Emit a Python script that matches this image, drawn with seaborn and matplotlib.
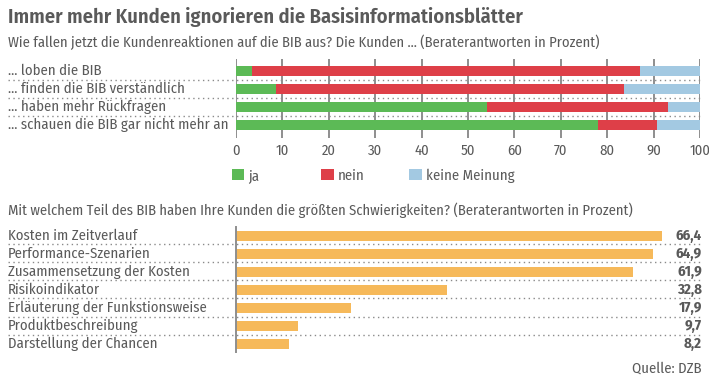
import numpy as np
import pandas as pd
import matplotlib
matplotlib.use("Agg")
import matplotlib.pyplot as plt
import matplotlib.transforms as mtransforms
from matplotlib.patches import Patch
from matplotlib import font_manager as fm
import seaborn as sns

# ---------------- data ----------------
top_categories = ["... loben die BIB", "... finden die BIB verständlich",
                  "... haben mehr Rückfragen", "... schauen die BIB gar nicht mehr an"]
ja = [3.4, 8.6, 54.2, 78.0]
nein = [83.7, 75.0, 38.9, 12.7]
keine_meinung = [12.9, 16.4, 6.9, 9.3]
top_ticks = [0, 10, 20, 30, 40, 50, 60, 70, 80, 90, 100]
legend_labels = ["ja", "nein", "keine Meinung"]

bottom_categories = ["Kosten im Zeitverlauf", "Performance-Szenarien",
                     "Zusammensetzung der Kosten", "Risikoindikator",
                     "Erläuterung der Funkstionsweise", "Produktbeschreibung",
                     "Darstellung der Chancen"]
bottom_values = [66.4, 64.9, 61.9, 32.8, 17.9, 9.7, 8.2]

title = "Immer mehr Kunden ignorieren die Basisinformationsblätter"
subtitle_top = "Wie fallen jetzt die Kundenreaktionen auf die BIB aus? Die Kunden ... (Beraterantworten in Prozent)"
subtitle_bottom = "Mit welchem Teil des BIB haben Ihre Kunden die größten Schwierigkeiten? (Beraterantworten in Prozent)"
source = "Quelle: DZB"

# ---------------- style ----------------
sns.set_style("white")
available = {f.name for f in fm.fontManager.ttflist}
preferred = ["Fira Sans Condensed", "Barlow Semi Condensed", "Asap Condensed",
             "Roboto Condensed", "Archivo Narrow", "Liberation Sans Narrow", "Roboto"]
FONT = [f for f in preferred if f in available][:1] + ["DejaVu Sans"]
plt.rcParams["font.family"] = FONT
TXT = "#5a5a5a"
GREEN = "#5cba56"
RED = "#de3f48"
BLUE = "#a3c9e2"
ORANGE = "#f6b95a"
GRID = "#8e8e8e"
DOT = "#8a8a8a"

W, H = 709, 389
fig = plt.figure(figsize=(W / 100, H / 100), dpi=100)
fig.patch.set_facecolor("white")


def fx(px):
    return px / W


def fy(py):
    return 1 - py / H


PT = 72 / 100  # px -> pt
FS = 10.6

# ---------------- top chart ----------------
x0, x1 = 236, 700
ax1 = fig.add_axes([fx(x0), fy(138), (x1 - x0) / W, (138 - 59) / H])
df_top = pd.DataFrame({"cat": top_categories, "ja": ja, "nein": nein, "keine": keine_meinung})
df_top["c2"] = df_top["ja"] + df_top["nein"]
df_top["c3"] = df_top["c2"] + df_top["keine"]

sns.barplot(data=df_top, x="c3", y="cat", color=BLUE, width=0.55, ax=ax1,
            orient="h", saturation=1, linewidth=0)
sns.barplot(data=df_top, x="c2", y="cat", color=RED, width=0.55, ax=ax1,
            orient="h", saturation=1, linewidth=0)
sns.barplot(data=df_top, x="ja", y="cat", color=GREEN, width=0.55, ax=ax1,
            orient="h", saturation=1, linewidth=0)

ax1.set_xlim(0, 100)
ax1.set_ylim(3.72, -0.65)
ax1.set_xticks(top_ticks)
ax1.set_xticklabels([str(t) for t in top_ticks])
ax1.set_xlabel("")
ax1.set_ylabel("")
ax1.grid(axis="x", color=GRID, lw=1.4)
ax1.grid(axis="y", visible=False)
ax1.set_axisbelow(True)
for s in ax1.spines.values():
    s.set_visible(False)
ax1.tick_params(axis="x", length=0, pad=6 * PT, labelsize=FS, labelcolor=TXT)
ax1.tick_params(axis="y", length=0, pad=(x0 - 8) * PT, labelsize=FS, labelcolor=TXT)
for lab in ax1.get_yticklabels():
    lab.set_ha("left")
    lab.set_va("center")

trans1 = mtransforms.blended_transform_factory(ax1.transAxes, ax1.transData)
xa_left = (8 - x0) / (x1 - x0)
for i in range(len(top_categories) - 1):
    ax1.plot([xa_left, 1.0], [i + 0.5, i + 0.5], transform=trans1, clip_on=False,
             color=DOT, lw=1.0, ls=(0, (1, 2.5)), zorder=0.5)

# legend
leg_x = [231.5, 321, 409]
for lab, col, lx in zip(legend_labels, [GREEN, RED, BLUE], leg_x):
    fig.legend(handles=[Patch(facecolor=col, edgecolor="none", label=lab)],
               loc="center left", bbox_to_anchor=(fx(lx), fy(175.5)),
               frameon=False, fontsize=FS, handlelength=0.85, handleheight=0.85,
               handletextpad=0.3, borderpad=0, borderaxespad=0, labelcolor=TXT)

# ---------------- bottom chart ----------------
scale = 6.42  # px per unit
ax2 = fig.add_axes([fx(x0), fy(351.7), (x1 - x0) / W, (351.7 - 227) / H])
df_bot = pd.DataFrame({"cat": bottom_categories, "val": bottom_values})
sns.barplot(data=df_bot, x="val", y="cat", color=ORANGE, width=0.55, ax=ax2,
            orient="h", saturation=1, linewidth=0)
ax2.set_xlim(0, (x1 - x0) / scale)
ax2.set_ylim(6.43, -0.48)
ax2.set_xlabel("")
ax2.set_ylabel("")
ax2.set_xticks([])
ax2.grid(False)
for k, s in ax2.spines.items():
    s.set_visible(k == "left")
ax2.spines["left"].set_color(GRID)
ax2.spines["left"].set_linewidth(1.4)
ax2.tick_params(axis="y", length=0, pad=(x0 - 8) * PT, labelsize=FS, labelcolor=TXT)
for lab in ax2.get_yticklabels():
    lab.set_ha("left")
    lab.set_va("center")

trans2 = mtransforms.blended_transform_factory(ax2.transAxes, ax2.transData)
for i in range(len(bottom_categories) - 1):
    ax2.plot([xa_left, 1.0], [i + 0.48, i + 0.48], transform=trans2, clip_on=False,
             color=DOT, lw=1.0, ls=(0, (1, 2.5)), zorder=0.5)
xa_val = (702 - x0) / (x1 - x0)
for i, v in enumerate(bottom_values):
    ax2.text(xa_val, i, f"{v:.1f}".replace(".", ","), transform=trans2,
             ha="right", va="center", fontsize=FS, fontweight="bold", color=TXT)

# ---------------- texts ----------------
fig.text(fx(8), fy(17), title, fontsize=14.7, fontweight="semibold", color=TXT, va="center", ha="left")
fig.text(fx(8), fy(42), subtitle_top, fontsize=10.5, color=TXT, va="center", ha="left")
fig.text(fx(8), fy(210), subtitle_bottom, fontsize=10.5, color=TXT, va="center", ha="left")
fig.text(fx(702), fy(368), source, fontsize=FS, color=TXT, va="center", ha="right")

fig.savefig("out.png", dpi=100, facecolor="white")
